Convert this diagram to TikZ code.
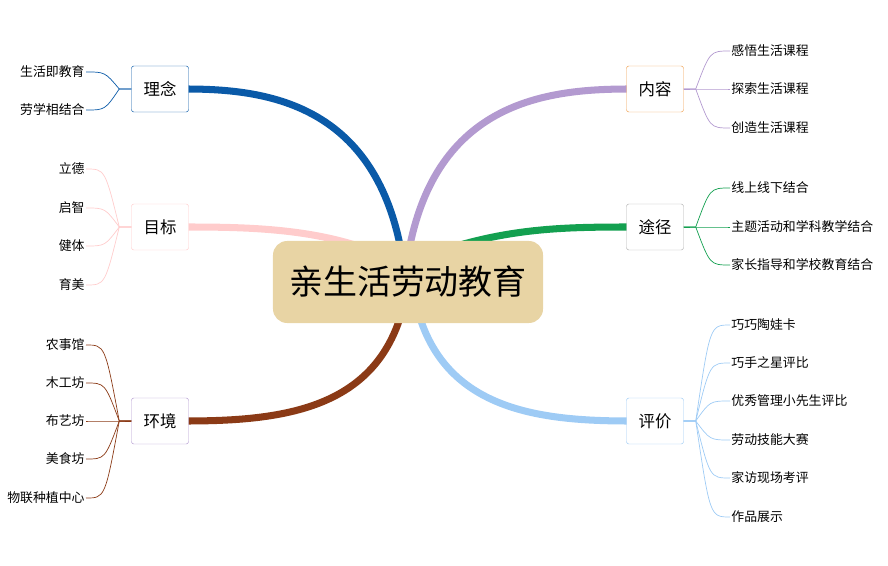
\documentclass[tikz,border=0pt]{standalone}
\usepackage{fontspec}
\setmainfont{Noto Sans CJK SC}
\usetikzlibrary{calc}
\definecolor{cBlue}{HTML}{0A5AA8}
\definecolor{cPink}{HTML}{FFCCCC}
\definecolor{cBrown}{HTML}{8B3A16}
\definecolor{cPurple}{HTML}{B39AD0}
\definecolor{cGreen}{HTML}{13A050}
\definecolor{cSky}{HTML}{9ECBF5}
\definecolor{cTan}{HTML}{E8D4A4}
\definecolor{cOrange}{HTML}{F0A050}
\begin{document}
\begin{tikzpicture}[x=0.03cm,y=-0.03cm,
				topic/.style={
				% The shape:
				rectangle, rounded corners=2pt,
				% The size:
				minimum width=1.71cm, minimum height=1.38cm,
				% The border:
				thin, fill=white,
				font=\fontsize{14pt}{16pt}\selectfont
				},
				leaf/.style={font=\fontsize{11pt}{13pt}\selectfont, inner sep=1pt},
				branch/.style={line width=6pt},
				twig/.style={line width=0.6pt},
				]
    \useasboundingbox (0,0) rectangle (888,566);
    % the branches
    \draw[branch,cBlue] (400,245) .. controls (370,100) and (260,89) .. (185,89);
    \draw[branch,cPurple] (410,245) .. controls (440,100) and (550,89) .. (630,89);
    \draw[branch,cPink] (355,245) .. controls (300,228) and (240,227) .. (185,227);
    \draw[branch,cGreen] (460,245) .. controls (520,228) and (570,227) .. (630,227);
    \draw[branch,cBrown] (400,318) .. controls (370,410) and (280,421) .. (185,421);
    \draw[branch,cSky] (420,318) .. controls (450,410) and (540,421) .. (630,421);
    % central node
    \node[rectangle, rounded corners=12pt, fill=cTan, minimum width=8.1cm, minimum height=2.46cm,
          font=\fontsize{29pt}{32pt}\selectfont] (main) at (408,282) {亲生活劳动教育};
    % topics
    \node[topic, draw=cBlue] (linian) at (160,89) {理念};
    \node[topic, draw=cPink] (mubiao) at (160,227) {目标};
    \node[topic, draw=cPurple] (huanjing) at (160,421) {环境};
    \node[topic, draw=cOrange] (neirong) at (655,89) {内容};
    \node[topic, draw=black!30] (tujing) at (655,227) {途径};
    \node[topic, draw=cSky] (pingjia) at (655,421) {评价};
    % left leaves
    \foreach \t/\y [count=\i] in {生活即教育/72, 劳学相结合/110}{
      \node[leaf, anchor=east] (ln\i) at (86,\y) {\t};
      \draw[twig,cBlue] (linian.west) -- ++(-12,0) .. controls (105,\y) .. (ln\i.east);
    }
    \foreach \t/\y [count=\i] in {立德/169, 启智/208, 健体/246, 育美/285}{
      \node[leaf, anchor=east] (mb\i) at (86,\y) {\t};
      \draw[twig,cPink] (mubiao.west) -- ++(-12,0) .. controls (105,\y) .. (mb\i.east);
    }
    \foreach \t/\y [count=\i] in {农事馆/345, 木工坊/383, 布艺坊/421, 美食坊/459, 物联种植中心/498}{
      \node[leaf, anchor=east] (hj\i) at (86,\y) {\t};
      \draw[twig,cBrown] (huanjing.west) -- ++(-12,0) .. controls (105,\y) .. (hj\i.east);
    }
    % right leaves
    \foreach \t/\y [count=\i] in {感悟生活课程/51, 探索生活课程/89, 创造生活课程/128}{
      \node[leaf, anchor=west] (nr\i) at (730,\y) {\t};
      \draw[twig,cPurple] (neirong.east) -- ++(12,0) .. controls (710,\y) .. (nr\i.west);
    }
    \foreach \t/\y [count=\i] in {线上线下结合/188, 主题活动和学科教学结合/227, 家长指导和学校教育结合/265}{
      \node[leaf, anchor=west] (tj\i) at (730,\y) {\t};
      \draw[twig,cGreen] (tujing.east) -- ++(12,0) .. controls (710,\y) .. (tj\i.west);
    }
    \foreach \t/\y [count=\i] in {巧巧陶娃卡/325, 巧手之星评比/363, 优秀管理小先生评比/401, 劳动技能大赛/440, 家访现场考评/478, 作品展示/517}{
      \node[leaf, anchor=west] (pj\i) at (730,\y) {\t};
      \draw[twig,cSky] (pingjia.east) -- ++(12,0) .. controls (710,\y) .. (pj\i.west);
    }
\end{tikzpicture}
\end{document}
